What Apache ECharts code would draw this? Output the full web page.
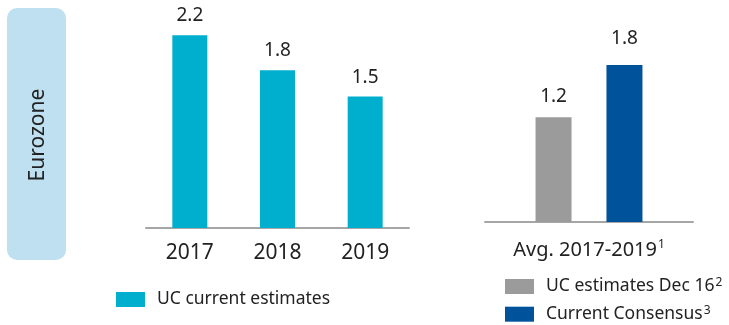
<!DOCTYPE html>
<html><head><meta charset="utf-8">
<script src="https://cdn.jsdelivr.net/npm/echarts@6/dist/echarts.min.js"></script>
<style>html,body{margin:0;padding:0;background:#fff}#c{width:729px;height:325px}</style>
</head><body><div id="c"></div>
<script>
const years = ['2017', '2018', '2019'];
const ucCurrent = [2.2, 1.8, 1.5];
const avgCategory = ['Avg. 2017-2019'];
const ucDec16 = [1.2];
const consensus = [1.8];
const regionLabel = 'Eurozone';
const legendLeft = ['UC current estimates'];
const legendRight = ['UC estimates Dec 16', 'Current Consensus'];
const supers = {'UC estimates Dec 16': '2', 'Current Consensus': '3', 'Avg. 2017-2019': '1'};

const FONT = 'Noto Sans';
const TXT = '#222222';
const chart = echarts.init(document.getElementById('c'));
const valLabel = (dist) => ({show: true, position: 'top', distance: dist, fontFamily: FONT, fontSize: 19, color: TXT});
chart.setOption({
  animation: false,
  textStyle: {fontFamily: FONT},
  graphic: [
    {type: 'rect', shape: {x: 7, y: 8, width: 59, height: 252, r: 10}, style: {fill: '#BEE0F0'}},
    {type: 'text', x: 38, y: 135, rotation: Math.PI / 2,
     style: {text: regionLabel, font: '21px "Noto Sans"', fill: TXT, align: 'center', verticalAlign: 'middle'}}
  ],
  grid: [
    {left: 146, width: 263, top: 9, height: 219},
    {left: 485, width: 208, top: 4, height: 218}
  ],
  xAxis: [
    {type: 'category', gridIndex: 0, data: years,
     axisLine: {lineStyle: {color: '#A6A6A6', width: 2}}, axisTick: {show: false},
     axisLabel: {fontFamily: FONT, fontSize: 21, color: TXT, margin: 15}},
    {type: 'category', gridIndex: 1, data: avgCategory,
     axisLine: {lineStyle: {color: '#A6A6A6', width: 2}}, axisTick: {show: false},
     axisLabel: {margin: 17, formatter: (v) => '{n|' + v + '}{s|' + supers[v] + '}',
       rich: {n: {fontFamily: FONT, fontSize: 20, color: TXT, lineHeight: 22},
              s: {fontFamily: FONT, fontSize: 12, color: TXT, verticalAlign: 'top', padding: [0, 0, 0, 1]}}}}
  ],
  yAxis: [
    {type: 'value', gridIndex: 0, min: 0, max: 2.5, show: false, splitLine: {show: false}},
    {type: 'value', gridIndex: 1, min: 0, max: 2.5, show: false, splitLine: {show: false}}
  ],
  legend: [
    {data: legendLeft, left: 116, top: 289.5, padding: 0, orient: 'horizontal', icon: 'rect', itemWidth: 29, itemHeight: 15,
     textStyle: {fontFamily: FONT, fontSize: 17.5, lineHeight: 20, color: TXT, padding: [0, 0, 0, 7]}},
    {data: legendRight, left: 505, top: 276.5, height: 100, padding: 0, orient: 'vertical', icon: 'rect', itemWidth: 29, itemHeight: 15, itemGap: 8.7,
     formatter: (n) => '{n|' + n + '}{s|' + supers[n] + '}',
     textStyle: {padding: [0, 0, 0, 7], rich: {
       n: {fontFamily: FONT, fontSize: 17.5, color: TXT, lineHeight: 20},
       s: {fontFamily: FONT, fontSize: 12, color: TXT, verticalAlign: 'top', padding: [0, 0, 0, 1]}}}}
  ],
  series: [
    {name: 'UC current estimates', type: 'bar', xAxisIndex: 0, yAxisIndex: 0, data: ucCurrent, barWidth: 35,
     itemStyle: {color: '#00AECE'}, label: valLabel(10)},
    {name: 'UC estimates Dec 16', type: 'bar', xAxisIndex: 1, yAxisIndex: 1, data: ucDec16, barWidth: 36, barGap: '97%',
     itemStyle: {color: '#9B9B9B'}, label: valLabel(11)},
    {name: 'Current Consensus', type: 'bar', xAxisIndex: 1, yAxisIndex: 1, data: consensus, barWidth: 36, barGap: '97%',
     itemStyle: {color: '#00529B'}, label: valLabel(17)}
  ]
});
</script></body></html>
